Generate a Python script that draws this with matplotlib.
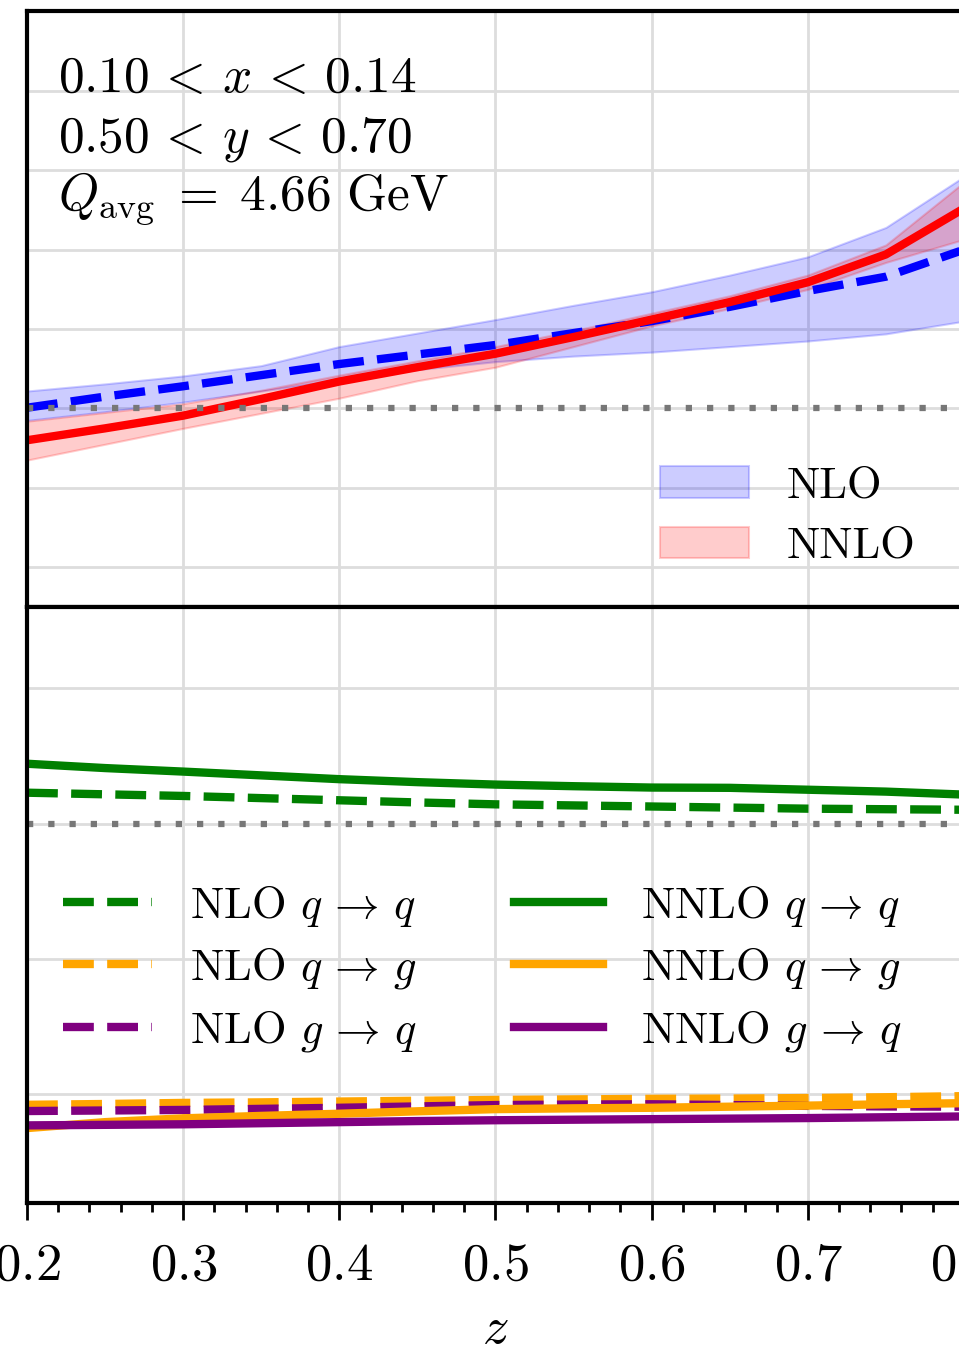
import matplotlib
matplotlib.use("Agg")
import matplotlib.pyplot as plt
from matplotlib.ticker import MultipleLocator

plt.rcParams['font.family'] = 'cmr10'
plt.rcParams['mathtext.fontset'] = 'cm'
plt.rcParams['axes.unicode_minus'] = False
plt.rcParams['axes.formatter.use_mathtext'] = True

# z bins
z = [0.20, 0.25, 0.30, 0.35, 0.40, 0.45, 0.50, 0.55, 0.60, 0.65, 0.70, 0.75, 0.80]

# upper panel: central values and scale bands
nlo_central = [1.001, 1.015, 1.028, 1.042, 1.056, 1.068, 1.080, 1.095, 1.110, 1.128, 1.148, 1.166, 1.200]
nlo_upper = [1.022, 1.031, 1.041, 1.054, 1.078, 1.095, 1.112, 1.130, 1.147, 1.168, 1.191, 1.228, 1.292]
nlo_lower = [0.985, 0.996, 1.008, 1.022, 1.036, 1.049, 1.059, 1.066, 1.071, 1.078, 1.085, 1.094, 1.110]

nnlo_central = [0.960, 0.975, 0.991, 1.012, 1.034, 1.052, 1.069, 1.090, 1.112, 1.134, 1.159, 1.194, 1.252]
nnlo_upper = [0.984, 0.995, 1.006, 1.023, 1.042, 1.060, 1.078, 1.098, 1.120, 1.142, 1.168, 1.206, 1.285]
nnlo_lower = [0.935, 0.955, 0.975, 0.994, 1.013, 1.035, 1.052, 1.078, 1.104, 1.126, 1.150, 1.184, 1.213]

# lower panel: partonic channels
nlo_qq = [1.114, 1.108, 1.102, 1.094, 1.086, 1.078, 1.071, 1.067, 1.063, 1.059, 1.055, 1.053, 1.051]
nlo_qg = [-0.039, -0.036, -0.032, -0.030, -0.027, -0.024, -0.021, -0.019, -0.017, -0.016, -0.014, -0.011, -0.007]
nlo_gq = [-0.062, -0.060, -0.058, -0.054, -0.050, -0.045, -0.040, -0.038, -0.037, -0.040, -0.043, -0.045, -0.046]
nnlo_qq = [1.221, 1.205, 1.192, 1.178, 1.164, 1.153, 1.144, 1.138, 1.133, 1.132, 1.125, 1.118, 1.107]
nnlo_qg = [-0.125, -0.103, -0.089, -0.080, -0.072, -0.063, -0.055, -0.052, -0.050, -0.046, -0.042, -0.037, -0.033]
nnlo_gq = [-0.115, -0.113, -0.111, -0.107, -0.103, -0.099, -0.096, -0.094, -0.092, -0.090, -0.088, -0.085, -0.082]

channel_labels = [r'$q\,\to\,q$', r'$q\,\to\,g$', r'$g\,\to\,q$']
channel_colors = ['green', 'orange', 'purple']

LW = 6
fig = plt.figure(figsize=(9.59, 13.51), dpi=100)
left, width, height = 0.02815, 0.977, 0.4408
ax1 = fig.add_axes([left, 0.5507, width, height])
ax2 = fig.add_axes([left, 0.1099, width, height], sharex=ax1)

# upper panel
ax1.fill_between(z, nlo_lower, nlo_upper, color='blue', alpha=0.2, lw=1.5, label='NLO')
ax1.fill_between(z, nnlo_lower, nnlo_upper, color='red', alpha=0.2, lw=1.5, label='NNLO')
ax1.plot(z, nlo_central, color='blue', lw=LW, ls='--')
ax1.plot(z, nnlo_central, color='red', lw=LW)
ax1.axhline(1.0, color='#777777', lw=4.5, dashes=(1, 2.4))
ax1.set_ylim(0.75, 1.5)
ax1.yaxis.set_major_locator(MultipleLocator(0.1))

txt_kw = dict(transform=ax1.transAxes, fontsize=37, va='baseline', ha='left')
ax1.text(0.033, 0.864, r'$0.10\,<\,x\,<\,0.14$', **txt_kw)
ax1.text(0.033, 0.765, r'$0.50\,<\,y\,<\,0.70$', **txt_kw)
ax1.text(0.033, 0.666, r'$Q_{\rm avg}\;=\;4.66\ {\rm GeV}$', **txt_kw)

ax1.legend(loc='upper left', bbox_to_anchor=(0.6756, 0.236), frameon=False,
           fontsize=32, borderpad=0, borderaxespad=0, handlelength=2.0,
           handleheight=0.7, handletextpad=0.85, labelspacing=0.45)

# lower panel
nlo_curves = [nlo_qq, nlo_qg, nlo_gq]
nnlo_curves = [nnlo_qq, nnlo_qg, nnlo_gq]
for vals, lab, col in zip(nlo_curves, channel_labels, channel_colors):
    ax2.plot(z, vals, color=col, lw=LW, ls='--', label='NLO ' + lab)
for vals, lab, col in zip(nnlo_curves, channel_labels, channel_colors):
    ax2.plot(z, vals, color=col, lw=LW, label='NNLO ' + lab)
ax2.axhline(1.0, color='#777777', lw=4.5, dashes=(1, 2.4))
ax2.set_ylim(-0.4, 1.8)
ax2.yaxis.set_major_locator(MultipleLocator(0.5))

ax2.legend(loc='upper left', bbox_to_anchor=(0.0384, 0.537), ncol=2, frameon=False,
           fontsize=32, borderpad=0, borderaxespad=0, handlelength=2.0,
           handletextpad=0.85, labelspacing=0.37, columnspacing=2.2)

ax2.set_xlim(0.2, 0.8)
ax2.xaxis.set_major_locator(MultipleLocator(0.1))
ax2.xaxis.set_minor_locator(MultipleLocator(0.02))
ax2.set_xlabel(r'$z$', fontsize=38, labelpad=12)

for ax in (ax1, ax2):
    ax.grid(True, which='major', color='#dddddd', lw=2)
    ax.set_axisbelow(True)
    for sp in ax.spines.values():
        sp.set_linewidth(3)
    ax.tick_params(axis='y', length=0, labelleft=False)

ax1.tick_params(axis='x', which='both', length=0, labelbottom=False)
ax2.tick_params(axis='x', which='major', length=12, width=2, labelsize=38, pad=17)
ax2.tick_params(axis='x', which='minor', length=6.5, width=2)

fig.savefig('out.png', dpi=100)
